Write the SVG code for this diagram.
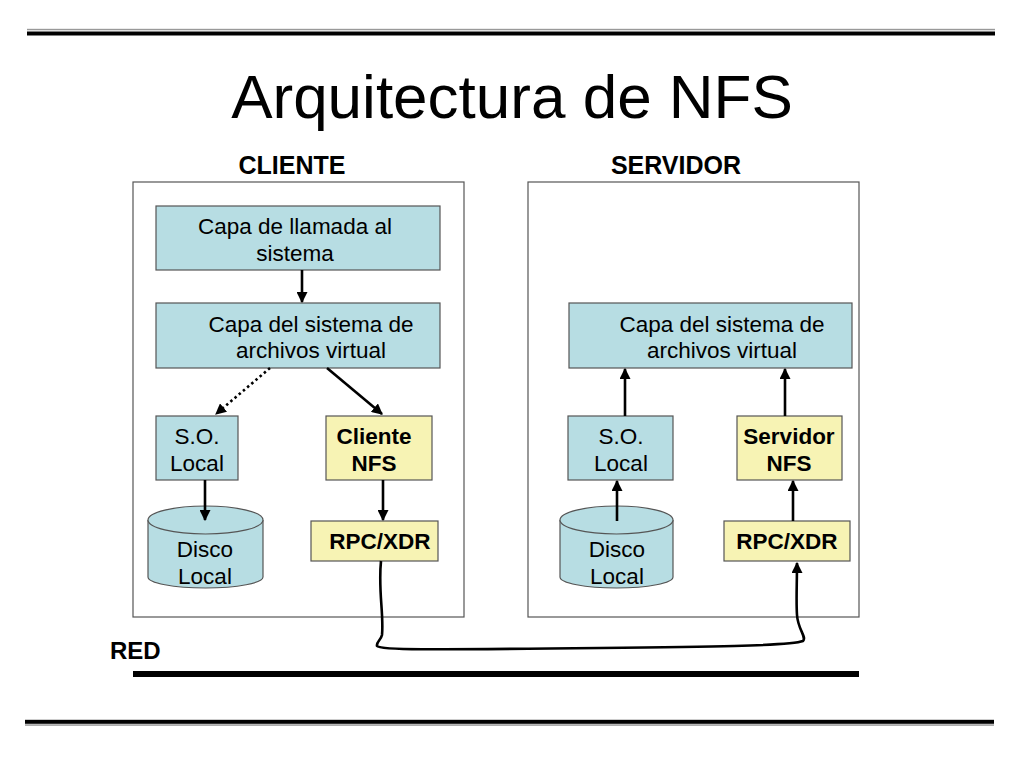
<svg xmlns="http://www.w3.org/2000/svg" width="1024" height="768" viewBox="0 0 1024 768">
<defs>
<marker id="ahs" viewBox="0 0 10 10" refX="9" refY="5" markerWidth="11" markerHeight="11" orient="auto" markerUnits="userSpaceOnUse">
<path d="M0,0 L10,5 L0,10 z" fill="#000"/>
</marker>
</defs>
<style>
.frame{fill:#fff;stroke:#555;stroke-width:1.2}
.blue{fill:#b7dde3;stroke:#555;stroke-width:1.2}
.yel{fill:#f7f3b4;stroke:#555;stroke-width:1.2}
.t{font-family:"Liberation Sans",Arial,sans-serif;font-size:22.5px;fill:#000;text-anchor:middle}
.b{font-weight:bold}
.h{font-family:"Liberation Sans",Arial,sans-serif;font-size:25px;font-weight:bold;text-anchor:middle}
.conn{stroke:#000;stroke-width:2.6;fill:none}
</style>
<rect width="1024" height="768" fill="#fff"/>
<rect x="27" y="28.8" width="968" height="1.5" fill="#999"/>
<rect x="27" y="31.5" width="968" height="4" fill="#000"/>
<rect x="25" y="719.8" width="969" height="4" fill="#000"/>
<rect x="25" y="724.3" width="969" height="1.5" fill="#999"/>
<text x="512" y="118" font-family="Liberation Sans,Arial,sans-serif" font-size="62" text-anchor="middle">Arquitectura de NFS</text>
<text x="292" y="174" class="h">CLIENTE</text>
<text x="676" y="174" class="h">SERVIDOR</text>
<rect id="frame-cliente" class="frame" x="133" y="182" width="331" height="435"/>
<rect id="frame-servidor" class="frame" x="528" y="182" width="331" height="435"/>
<g id="c-llamada"><rect class="blue" x="156" y="206" width="284" height="64"/>
<text class="t" x="295" y="234">Capa de llamada al</text><text class="t" x="295" y="261">sistema</text></g>
<g id="c-vfs"><rect class="blue" x="156" y="303" width="284" height="65"/>
<text class="t" x="311" y="332">Capa del sistema de</text><text class="t" x="311" y="358">archivos virtual</text></g>
<g id="c-so"><rect class="blue" x="156" y="416" width="82" height="64"/>
<text class="t" x="197" y="444">S.O.</text><text class="t" x="197" y="471">Local</text></g>
<g id="c-nfs"><rect class="yel" x="326" y="416" width="106" height="64"/>
<text class="t b" x="374" y="444">Cliente</text><text class="t b" x="374" y="471">NFS</text></g>
<g id="c-disco"><path class="blue" d="M148,520 V577 A57.5,11 0 0 0 263,577 V520"/>
<ellipse class="blue" cx="205.5" cy="520" rx="57.5" ry="14"/>
<text class="t" x="205" y="557">Disco</text><text class="t" x="205" y="584">Local</text></g>
<g id="c-rpc"><rect class="yel" x="311" y="521" width="127" height="40"/>
<text class="t b" x="380" y="549">RPC/XDR</text></g>
<g id="s-vfs"><rect class="blue" x="569" y="303" width="283" height="65"/>
<text class="t" x="722" y="332">Capa del sistema de</text><text class="t" x="722" y="358">archivos virtual</text></g>
<g id="s-so"><rect class="blue" x="568" y="416" width="105" height="64"/>
<text class="t" x="621" y="444">S.O.</text><text class="t" x="621" y="471">Local</text></g>
<g id="s-nfs"><rect class="yel" x="737" y="416" width="105" height="64"/>
<text class="t b" x="789" y="444">Servidor</text><text class="t b" x="789" y="471">NFS</text></g>
<g id="s-disco"><path class="blue" d="M560,520 V577 A56.5,11 0 0 0 673,577 V520"/>
<ellipse class="blue" cx="616.5" cy="520" rx="56.5" ry="14"/>
<text class="t" x="617" y="557">Disco</text><text class="t" x="617" y="584">Local</text></g>
<g id="s-rpc"><rect class="yel" x="724" y="521" width="126" height="40"/>
<text class="t b" x="787" y="549">RPC/XDR</text></g>
<g id="connectors">
<line class="conn" x1="302" y1="270" x2="302" y2="302" marker-end="url(#ahs)"/>
<line class="conn" x1="270" y1="368" x2="216" y2="414" stroke-dasharray="2.5,3" marker-end="url(#ahs)"/>
<line class="conn" x1="327" y1="368" x2="382" y2="414" marker-end="url(#ahs)"/>
<line class="conn" x1="205" y1="480" x2="205" y2="520" marker-end="url(#ahs)"/>
<line class="conn" x1="383" y1="480" x2="383" y2="520" marker-end="url(#ahs)"/>
<line class="conn" x1="625" y1="416" x2="625" y2="369" marker-end="url(#ahs)"/>
<line class="conn" x1="785" y1="416" x2="785" y2="369" marker-end="url(#ahs)"/>
<line class="conn" x1="617" y1="521" x2="617" y2="481" marker-end="url(#ahs)"/>
<line class="conn" x1="793" y1="521" x2="793" y2="481" marker-end="url(#ahs)"/>
<path class="conn" d="M381,561 C378,590 384,615 382,635 C381,640 376,642 377,646 C380,650 420,650 600,648 C700,647 790,646 803,641 C807,637 798,630 797,615 C796,600 797,585 797,563" marker-end="url(#ahs)"/>
</g>
<text x="110" y="659" font-family="Liberation Sans,Arial,sans-serif" font-size="24" font-weight="bold">RED</text>
<rect id="red" x="133" y="671" width="726" height="6" fill="#000"/>
</svg>
